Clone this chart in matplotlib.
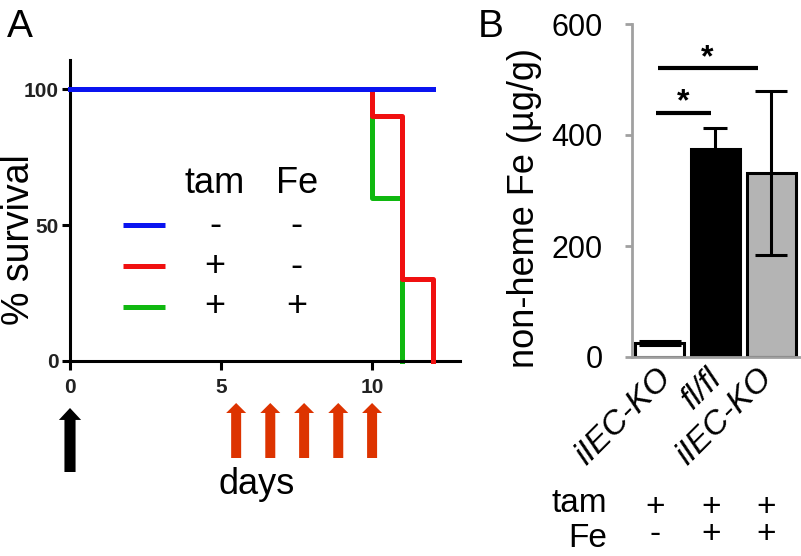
import matplotlib
matplotlib.use('Agg')
import matplotlib.pyplot as plt
import matplotlib.transforms as mtransforms

plt.rcParams['font.family'] = ['Liberation Sans', 'DejaVu Sans']

# ---------------- Panel A data (survival) ----------------
ctrl_days = [0, 12]
ctrl_surv = [100, 100]
tam_days = [0, 10, 11, 12]
tam_surv = [100, 90, 30, 0]
tamfe_days = [0, 10, 11]
tamfe_surv = [100, 60, 0]
legend_tam = ['-', '+', '+']
legend_fe = ['-', '-', '+']
tam_day = [0]
fe_days = [5.5, 6.63, 7.75, 8.88, 10.0]
a_yticks = [0, 50, 100]
a_xticks = [0, 5, 10]

# ---------------- Panel B data (non-heme Fe) ----------------
groups = ['iIEC-KO', 'fl/fl', 'iIEC-KO']
fe_mean = [25, 374, 331]
fe_err = [3, 38, 148]
b_tam = ['+', '+', '+']
b_fe = ['-', '+', '+']
sig_x = [(-0.07, 0.92), (-0.04, 1.76)]
sig_y = [440, 520]
b_yticks = [0, 200, 400, 600]

BLUE = '#0a14f0'
RED = '#f01010'
GREEN = '#10b810'
ARROW_RED = '#dd3300'
FS = 26

fig = plt.figure(figsize=(8.01, 5.56), dpi=100)
W, H = 801, 556

def ax_rect(l, r, top, bottom):
    return [l / W, 1 - bottom / H, (r - l) / W, (bottom - top) / H]

# ================= Panel A =================
axA = fig.add_axes(ax_rect(70, 460, 60, 361))
axA.set_xlim(0, 12.91)
axA.set_ylim(0, 110.7)
lw = 3.6
axA.step(tamfe_days, tamfe_surv, where='post', color=GREEN, lw=lw, zorder=2, clip_on=False)
axA.step(tam_days, tam_surv, where='post', color=RED, lw=lw, zorder=3, clip_on=False)
axA.step(ctrl_days, ctrl_surv, where='post', color=BLUE, lw=lw, zorder=4, clip_on=False)

for s in ['top', 'right']:
    axA.spines[s].set_visible(False)
for s in ['left', 'bottom']:
    axA.spines[s].set_linewidth(2.2)
axA.set_yticks(a_yticks)
axA.set_xticks(a_xticks)
axA.set_yticklabels([str(v) for v in a_yticks], fontsize=15, fontweight='bold', color='#222222')
axA.set_xticklabels([str(v) for v in a_xticks], fontsize=15, fontweight='bold', color='#222222')
axA.tick_params(axis='y', length=6, width=2.2, pad=2)
axA.tick_params(axis='x', length=6.5, width=2.2, pad=6)

# legend table
rows_y = [50, 35, 20]
row_colors = [BLUE, RED, GREEN]
for y, c, t, f in zip(rows_y, row_colors, legend_tam, legend_fe):
    axA.plot([1.75, 3.14], [y, y], color=c, lw=lw, solid_capstyle='butt')
    axA.text(4.8, y - 3.6, t, fontsize=FS, ha='center', va='baseline')
    axA.text(7.5, y - 3.6, f, fontsize=FS, ha='center', va='baseline')
axA.text(4.8, 61.8, 'tam', fontsize=FS, ha='center', va='baseline')
axA.text(7.5, 61.8, 'Fe', fontsize=FS, ha='center', va='baseline')

# arrows below axis
for d in tam_day:
    axA.annotate('', xy=(d, 148), xytext=(d, 84), xycoords=('data', 'figure pixels'),
                 textcoords=('data', 'figure pixels'),
                 arrowprops=dict(arrowstyle='simple,head_length=8.6,head_width=16,tail_width=8',
                                 mutation_scale=1, color='black', shrinkA=0, shrinkB=0, lw=0))
for d in fe_days:
    axA.annotate('', xy=(d, 153), xytext=(d, 98), xycoords=('data', 'figure pixels'),
                 textcoords=('data', 'figure pixels'),
                 arrowprops=dict(arrowstyle='simple,head_length=7.2,head_width=14.4,tail_width=7.2',
                                 mutation_scale=1, color=ARROW_RED, shrinkA=0, shrinkB=0, lw=0))

fig.text(257 / W, 1 - 485 / H, 'days', fontsize=FS, ha='center', va='center')
fig.text(19 / W, 1 - 240 / H, '% survival', fontsize=FS + 1, ha='center', va='center', rotation=90)
fig.text(7 / W, 1 - 37 / H, 'A', fontsize=28, ha='left', va='baseline')

# ================= Panel B =================
axB = fig.add_axes(ax_rect(632, 800, 24, 357))
x = list(range(len(groups)))
axB.set_xlim(-0.5, 2.52)
axB.set_ylim(0, 600)
axB.bar(x, fe_mean, width=0.88, color=['white', 'black', '#b4b4b4'],
        edgecolor='black', linewidth=2.2, zorder=2)
caps = [15, 8.3, 11.5]
for xi, m, e, cs in zip(x, fe_mean, fe_err, caps):
    axB.errorbar(xi, m, yerr=e, fmt='none', ecolor='black', elinewidth=2.2,
                 capsize=cs, capthick=2.2, zorder=3)

for (x0, x1), y in zip(sig_x, sig_y):
    axB.plot([x0, x1], [y, y], color='black', lw=3, solid_capstyle='butt', clip_on=False)
    axB.text((x0 + x1) / 2, y + 4, '*', fontsize=23, fontweight='bold', ha='center', va='baseline')

for s in ['top', 'right']:
    axB.spines[s].set_visible(False)
for s in ['left', 'bottom']:
    axB.spines[s].set_linewidth(2)
    axB.spines[s].set_color('#a0a0a0')
axB.set_yticks(b_yticks)
axB.set_yticklabels([str(v) for v in b_yticks], fontsize=22)
axB.tick_params(axis='y', length=5, width=2, color='#a0a0a0', pad=16)
axB.set_xticks(x)
axB.set_xticklabels(groups, rotation=45, ha='right', rotation_mode='anchor',
                    fontsize=24, style='italic')
axB.tick_params(axis='x', length=0, pad=4)
offs = [-4, -9, -14]
for lab, o in zip(axB.get_xticklabels(), offs):
    lab.set_transform(lab.get_transform() + mtransforms.ScaledTranslation(o / 100, 0, fig.dpi_scale_trans))

fig.text(524 / W, 1 - 208 / H, 'non-heme Fe (µg/g)', fontsize=FS, ha='center', va='center',
         rotation=90)

fig.text(607 / W, 1 - 521 / H, 'tam\nFe', fontsize=FS - 2, ha='right', va='center',
         multialignment='right', linespacing=1.17)
blend = mtransforms.blended_transform_factory(axB.transData, fig.transFigure)
for xi, t, f in zip(x, b_tam, b_fe):
    axB.text(xi - 0.08, 1 - 521 / H, t + '\n' + f, fontsize=FS - 2, ha='center', va='center',
             multialignment='center', linespacing=0.85, transform=blend)

fig.text(478 / W, 1 - 37 / H, 'B', fontsize=28, ha='left', va='baseline')

fig.savefig('out.png', dpi=100)
